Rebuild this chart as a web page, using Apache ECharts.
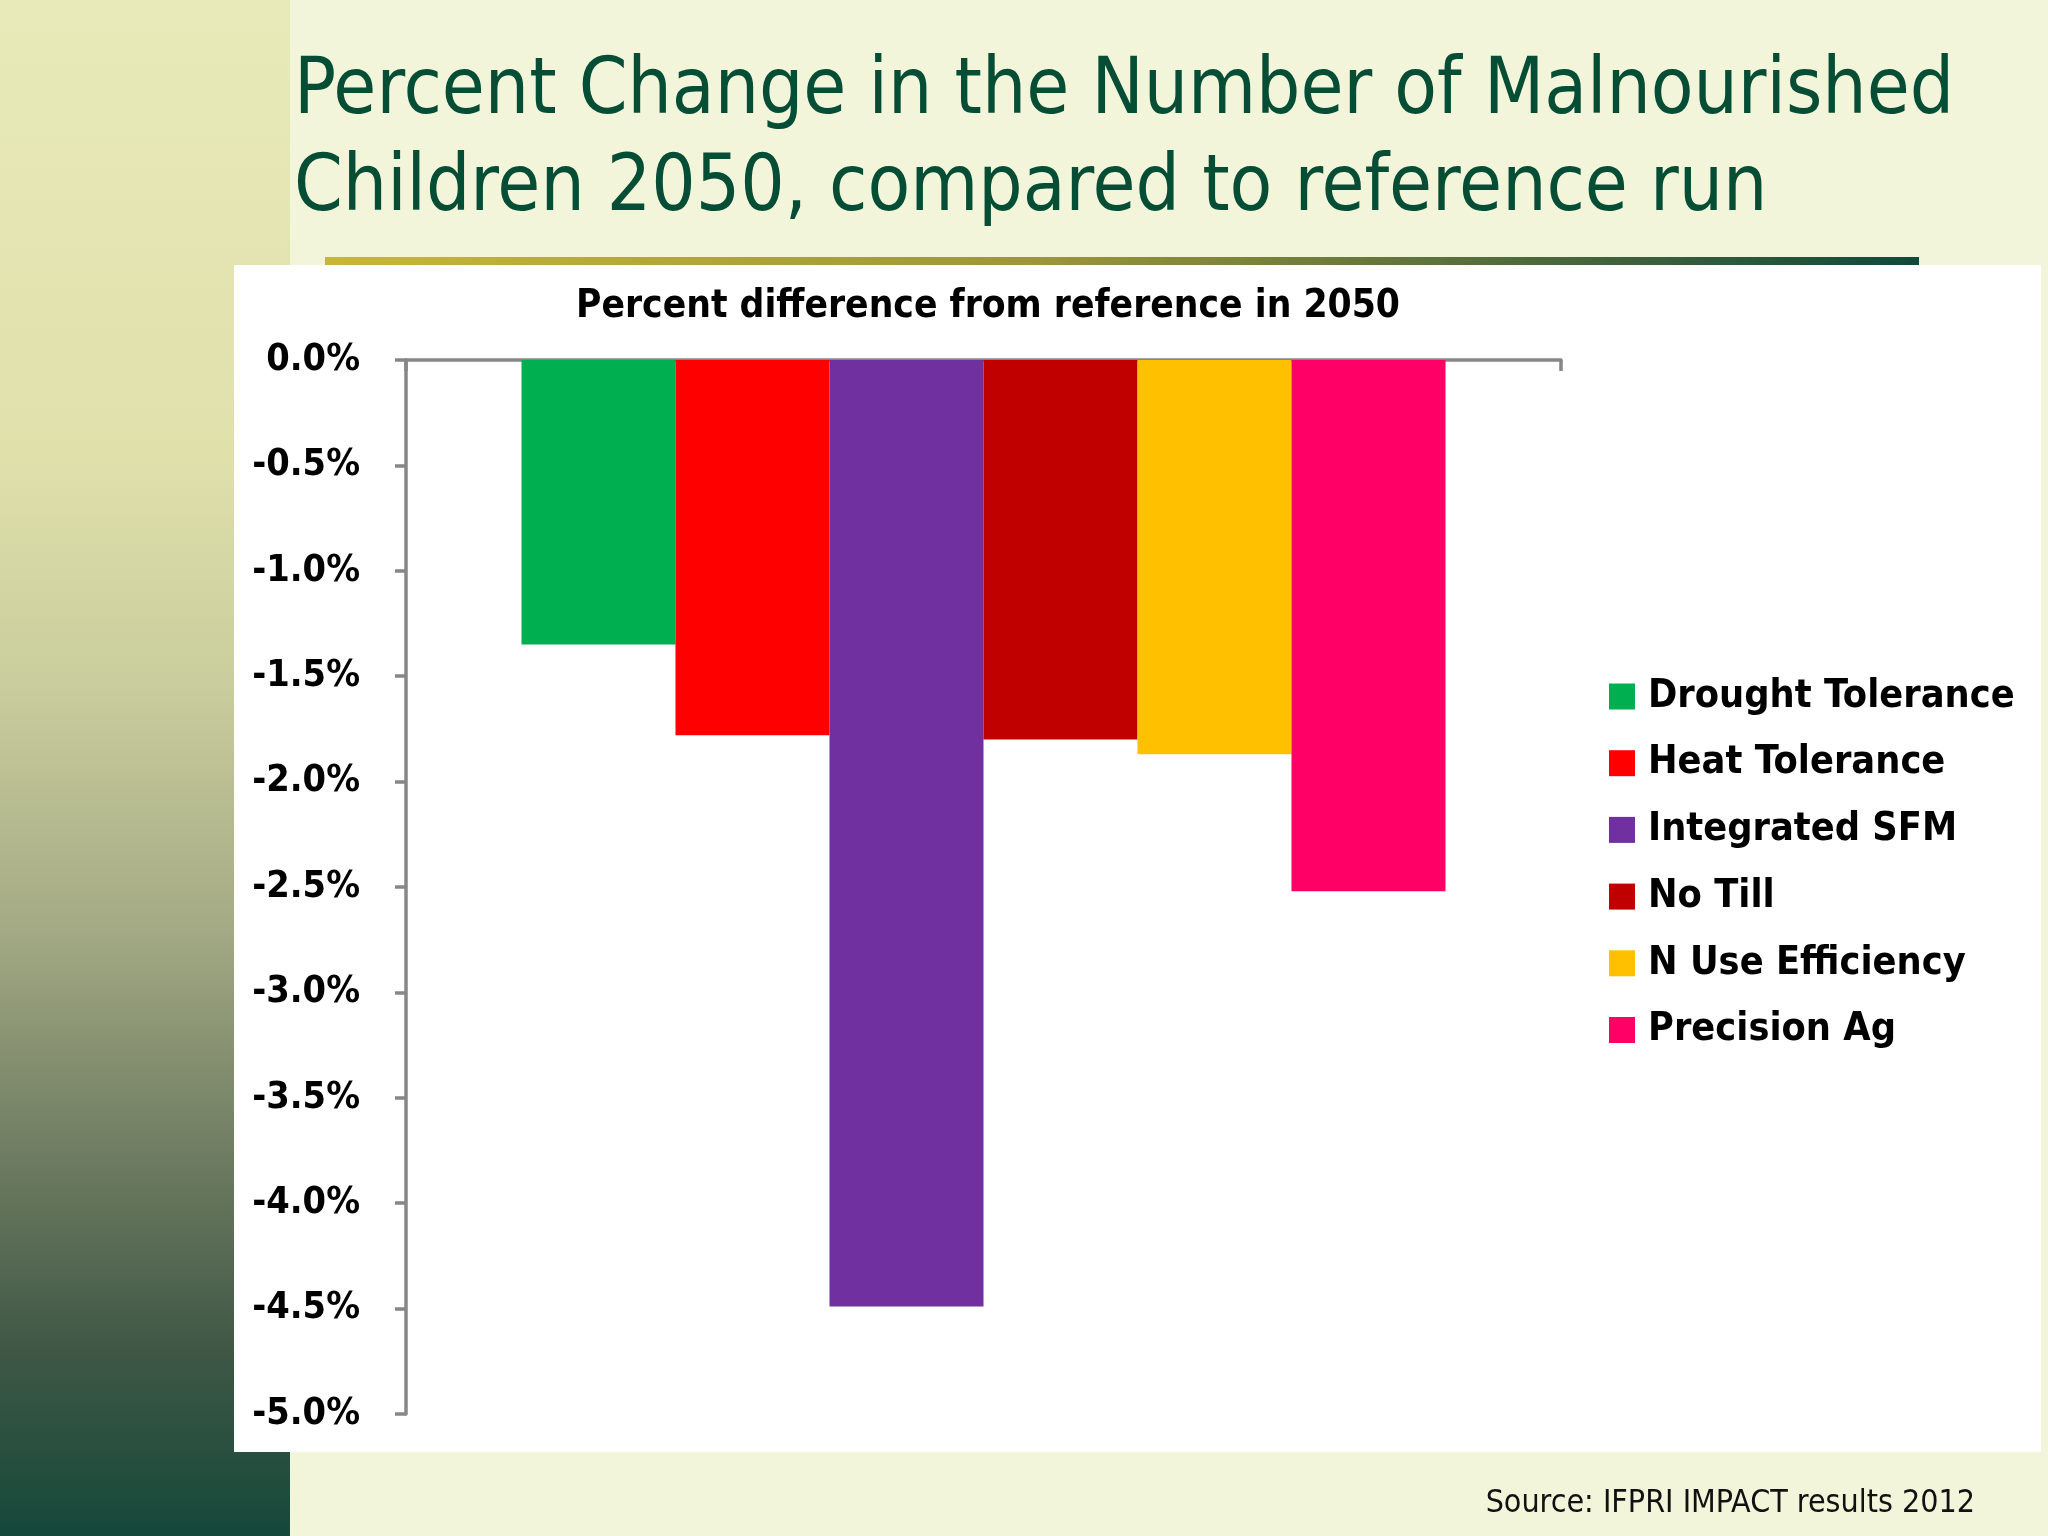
<!DOCTYPE html>
<html>
<head>
    <meta charset="utf-8">
    <title>Percent Change in the Number of Malnourished Children 2050</title>
    <script src="https://cdn.jsdelivr.net/npm/echarts@6/dist/echarts.min.js"></script>
    <style>
        html, body { margin: 0; padding: 0; background: #f2f5da; }
    </style>
</head>
<body>
    <div id="main" style="width: 2048px;height:1536px;"></div>
    <script type="text/javascript">
        // data
        var categories = ['2050'];
        var seriesNames = ['Drought Tolerance', 'Heat Tolerance', 'Integrated SFM', 'No Till', 'N Use Efficiency', 'Precision Ag'];
        var seriesValues = [-1.35, -1.78, -4.49, -1.80, -1.87, -2.52];
        var seriesColors = ['#00b050', '#ff0000', '#7030a0', '#c00000', '#ffc000', '#ff0066'];
        var yMin = -5, yMax = 0, yStep = 0.5;

        // pick a font size so a text fills a given width
        var ctx = document.createElement('canvas').getContext('2d');
        function fitSize(text, weight, family, width) {
            ctx.font = weight + ' 100px ' + family;
            return Math.round(100 * width / ctx.measureText(text).width * 10) / 10;
        }
        var titleFamily = "'DejaVu Sans Condensed', 'DejaVu Sans', sans-serif";
        var chartFamily = "'DejaVu Sans Condensed', 'DejaVu Sans', sans-serif";
        var titleSize = fitSize('Percent Change in the Number of Malnourished', 'normal', titleFamily, 1661);
        var subSize = fitSize('Percent difference from reference in 2050', 'bold', chartFamily, 825);
        var axisSize = fitSize('-0.5%', 'bold', chartFamily, 108);
        var legendSize = fitSize('Drought Tolerance', 'bold', chartFamily, 367);
        var sourceSize = fitSize('Source: IFPRI IMPACT results 2012', 'normal', titleFamily, 489);

        var myChart = echarts.init(document.getElementById('main'));

        var series = [];
        for (var i = 0; i < seriesNames.length; i++) {
            series.push({
                name: seriesNames[i],
                type: 'bar',
                barGap: '0%',
                barCategoryGap: '20%',
                itemStyle: { color: seriesColors[i] },
                data: [seriesValues[i]]
            });
        }

        var option = {
            animation: false,
            graphic: [
                {
                    type: 'rect', z: -10, silent: true,
                    shape: { x: 0, y: 0, width: 290, height: 1536 },
                    style: {
                        fill: new echarts.graphic.LinearGradient(0, 0, 0, 1, [
                            { offset: 0, color: '#e8eab9' },
                            { offset: 0.3, color: '#dfe0aa' },
                            { offset: 0.45, color: '#c9cc9c' },
                            { offset: 0.6, color: '#a5ab85' },
                            { offset: 0.75, color: '#6f7d62' },
                            { offset: 0.88, color: '#3f5745' },
                            { offset: 1, color: '#15483a' }
                        ])
                    }
                },
                {
                    type: 'rect', z: -9, silent: true,
                    shape: { x: 325, y: 257, width: 1594, height: 9 },
                    style: {
                        fill: new echarts.graphic.LinearGradient(0, 0, 1, 0, [
                            { offset: 0, color: '#c8b63a' },
                            { offset: 0.45, color: '#9c953a' },
                            { offset: 0.75, color: '#4f6a3c' },
                            { offset: 1, color: '#10493b' }
                        ])
                    }
                },
                {
                    type: 'rect', z: -8, silent: true,
                    shape: { x: 234, y: 265, width: 1807, height: 1187 },
                    style: { fill: '#ffffff' }
                },
                {
                    type: 'text', left: 294, top: 44,
                    style: {
                        text: 'Percent Change in the Number of Malnourished\nChildren 2050, compared to reference run',
                        font: 'normal ' + titleSize + 'px ' + titleFamily,
                        lineHeight: 97,
                        fill: '#064d36'
                    }
                },
                {
                    type: 'text', right: 73, top: 1488,
                    style: {
                        text: 'Source: IFPRI IMPACT results 2012',
                        font: 'normal ' + sourceSize + 'px ' + titleFamily,
                        fill: '#111111'
                    }
                }
            ],
            title: {
                text: 'Percent difference from reference in 2050',
                left: 983,
                textAlign: 'center',
                top: 282,
                textStyle: {
                    fontFamily: chartFamily,
                    fontWeight: 'bold',
                    fontSize: subSize,
                    color: '#000000'
                }
            },
            legend: {
                orient: 'vertical',
                left: 1604,
                top: 672,
                icon: 'rect',
                itemWidth: 26,
                itemHeight: 26,
                itemGap: 27.7,
                data: seriesNames,
                textStyle: {
                    fontFamily: chartFamily,
                    fontWeight: 'bold',
                    fontSize: legendSize,
                    lineHeight: 36,
                    color: '#000000',
                    padding: [0, 0, 0, 8]
                }
            },
            grid: {
                left: 406,
                right: 487,
                top: 360,
                bottom: 122
            },
            xAxis: {
                type: 'category',
                position: 'top',
                data: categories,
                axisLine: { lineStyle: { color: '#878787', width: 3.5 } },
                axisTick: { show: true, inside: true, length: 11, lineStyle: { color: '#878787', width: 3.5 } },
                axisLabel: { show: false }
            },
            yAxis: {
                type: 'value',
                min: yMin,
                max: yMax,
                interval: yStep,
                axisLine: { show: true, lineStyle: { color: '#878787', width: 3.5 } },
                axisTick: { show: true, length: 11, lineStyle: { color: '#878787', width: 3.5 } },
                splitLine: { show: false },
                axisLabel: {
                    margin: 46,
                    fontFamily: chartFamily,
                    fontWeight: 'bold',
                    fontSize: axisSize,
                    color: '#000000',
                    formatter: function (v) { return v.toFixed(1) + '%'; }
                }
            },
            series: series
        };
        myChart.setOption(option);
    </script>
</body>
</html>
